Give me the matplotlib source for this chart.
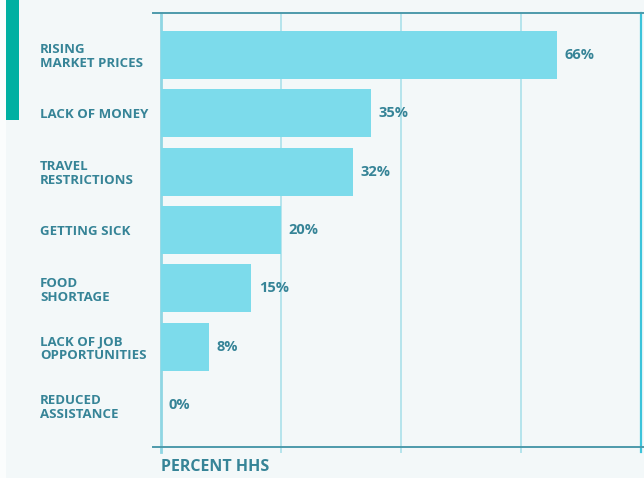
import matplotlib.pyplot as plt
from matplotlib.patches import Rectangle

categories = ['RISING\nMARKET PRICES', 'LACK OF MONEY', 'TRAVEL\nRESTRICTIONS',
              'GETTING SICK', 'FOOD\nSHORTAGE', 'LACK OF JOB\nOPPORTUNITIES',
              'REDUCED\nASSISTANCE']
values = [66, 35, 32, 20, 15, 8, 0]
ticks = [0, 20, 40, 60, 80]

bg = '#f3f8f9'
bar_color = '#7cdbeb'
text_color = '#368497'
font = ['Open Sans', 'DejaVu Sans']

fig = plt.figure(figsize=(6.44, 4.78), dpi=100, facecolor=bg)
fig.patches.append(Rectangle((0, 0), 6 / 644, 1, transform=fig.transFigure,
                             facecolor='#fbfdfd', edgecolor='none', zorder=0))
fig.patches.append(Rectangle((6 / 644, 1 - 120 / 478), 13 / 644, 120 / 478,
                             transform=fig.transFigure, facecolor='#00b0a2',
                             edgecolor='none', zorder=1))

ax = fig.add_axes([161 / 644, 1 - 447 / 478, 480 / 644, 434 / 478])
ax.set_facecolor(bg)

y = list(range(len(categories)))
ax.barh(y, values, height=0.82, color=bar_color, zorder=2)
ax.set_xlim(0, 80)
ax.set_ylim(len(categories) - 0.28, -0.72)

for yi, v in zip(y, values):
    ax.annotate(f'{v}%', (v, yi), xytext=(5.5, 0), textcoords='offset points',
                ha='left', va='center', fontsize=10.5, fontweight='bold',
                color=text_color, family=font)

ax.set_yticks(y)
ax.set_yticklabels(categories, fontsize=9.5, fontweight='bold', color=text_color,
                   family=font, ha='left', linespacing=1.1)
ax.tick_params(axis='y', length=0, pad=87)
ax.set_xticks([])
for s in ax.spines.values():
    s.set_visible(False)

# vertical gridlines, reaching a little past the bottom rule
grid_styles = {0: ('#8fd6e3', 2.0), 80: ('#3cc3da', 1.6)}
for t in ticks:
    c, lw = grid_styles.get(t, ('#b5e4ec', 1.4))
    xa = t / 80
    ax.plot([xa, xa], [-0.012, 1], transform=ax.transAxes, color=c, lw=lw,
            clip_on=False, zorder=1)

# top and bottom rules
for ya in (0, 1):
    ax.plot([-0.017, 1.01], [ya, ya], transform=ax.transAxes, color='#4d9aab',
            lw=1.4, clip_on=False, zorder=3)

ax.text(0, -0.028, 'PERCENT HHS', transform=ax.transAxes, ha='left', va='top',
        fontsize=11.5, fontweight='bold', color=text_color, family=font)

fig.savefig('out.png', dpi=100, facecolor=bg)
